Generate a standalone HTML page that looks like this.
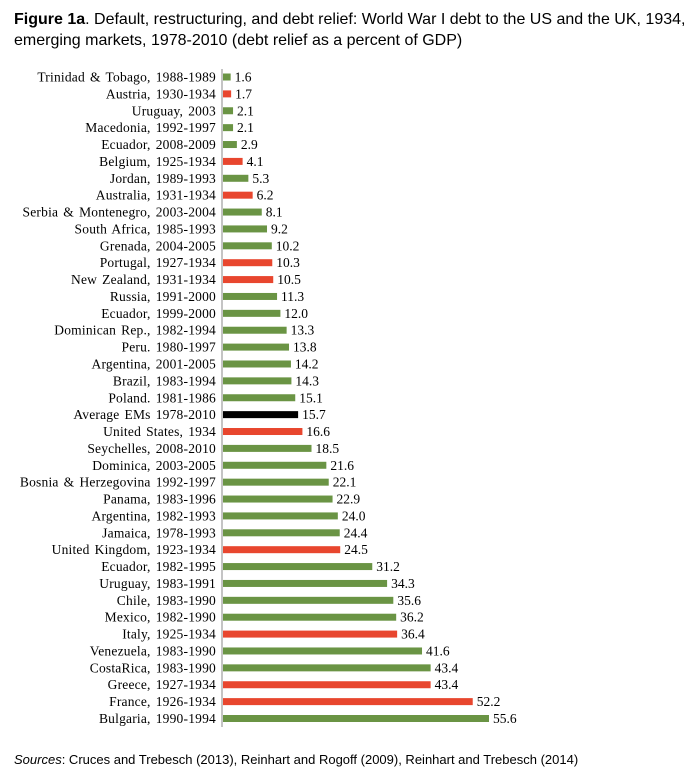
<!DOCTYPE html>
<html><head><meta charset="utf-8"><style>
body{margin:0;background:#fff;width:690px;height:777px;overflow:hidden;font-family:"Liberation Sans",Arial,sans-serif;}
#title{position:absolute;left:14px;top:9px;font-size:16px;line-height:21px;color:#000;}
#src{position:absolute;left:14px;top:752px;font-size:13px;color:#000;}
svg{position:absolute;left:0;top:0;}
</style></head><body>
<div id="title"><b>Figure 1a</b>. Default, restructuring, and debt relief: World War I debt to the US and the UK, 1934,<br>emerging markets, 1978-2010 (debt relief as a percent of GDP)</div>
<svg id="chart" width="690" height="777"></svg>
<div id="src"><i>Sources</i>: Cruces and Trebesch (2013), Reinhart and Rogoff (2009), Reinhart and Trebesch (2014)</div>
<script>
const categories=["Trinidad & Tobago, 1988-1989","Austria, 1930-1934","Uruguay, 2003","Macedonia, 1992-1997","Ecuador, 2008-2009","Belgium, 1925-1934","Jordan, 1989-1993","Australia, 1931-1934","Serbia & Montenegro, 2003-2004","South Africa, 1985-1993","Grenada, 2004-2005","Portugal, 1927-1934","New Zealand, 1931-1934","Russia, 1991-2000","Ecuador, 1999-2000","Dominican Rep., 1982-1994","Peru. 1980-1997","Argentina, 2001-2005","Brazil, 1983-1994","Poland. 1981-1986","Average EMs 1978-2010","United States, 1934","Seychelles, 2008-2010","Dominica, 2003-2005","Bosnia & Herzegovina 1992-1997","Panama, 1983-1996","Argentina, 1982-1993","Jamaica, 1978-1993","United Kingdom, 1923-1934","Ecuador, 1982-1995","Uruguay, 1983-1991","Chile, 1983-1990","Mexico, 1982-1990","Italy, 1925-1934","Venezuela, 1983-1990","CostaRica, 1983-1990","Greece, 1927-1934","France, 1926-1934","Bulgaria, 1990-1994"];
const values=[1.6,1.7,2.1,2.1,2.9,4.1,5.3,6.2,8.1,9.2,10.2,10.3,10.5,11.3,12.0,13.3,13.8,14.2,14.3,15.1,15.7,16.6,18.5,21.6,22.1,22.9,24.0,24.4,24.5,31.2,34.3,35.6,36.2,36.4,41.6,43.4,43.4,52.2,55.6];
const groups=["em","ww1","em","em","em","ww1","em","ww1","em","em","em","ww1","ww1","em","em","em","em","em","em","em","avg","ww1","em","em","em","em","em","em","ww1","em","em","em","em","ww1","em","em","ww1","ww1","em"];
const colors={em:"#6a9444",ww1:"#e8462e",avg:"#000"};
const svg=document.getElementById('chart');const NS="http://www.w3.org/2000/svg";
const x0=223,scale=266/55.6,y0=77,step=(718.5-77)/38,bh=7;
const xs=v=>x0+v*scale, ys=i=>y0+i*step;
function mk(t,a){const e=document.createElementNS(NS,t);for(const k in a)e.setAttribute(k,a[k]);svg.appendChild(e);return e;}
const ax=mk('line',{x1:222,x2:222,y1:69,y2:727,stroke:'#888','stroke-width':1});


categories.forEach((c,i)=>{
 const y=ys(i);
 const r=mk('rect',{x:x0,y:y-bh/2,width:xs(values[i])-x0,height:bh,fill:colors[groups[i]]});
 
 
 const l=mk('text',{x:216,y:y+4.5,'text-anchor':'end','font-family':'"Liberation Serif",serif','font-size':'13.5','word-spacing':'1.5','letter-spacing':'0.2'});
 l.textContent=c;
 
 
 const v=mk('text',{x:xs(values[i])+4,y:y+4.5,'font-family':'"Liberation Serif",serif','font-size':'13.5'});
 v.textContent=values[i].toFixed(1);
 
 
});
</script>
</body></html>
